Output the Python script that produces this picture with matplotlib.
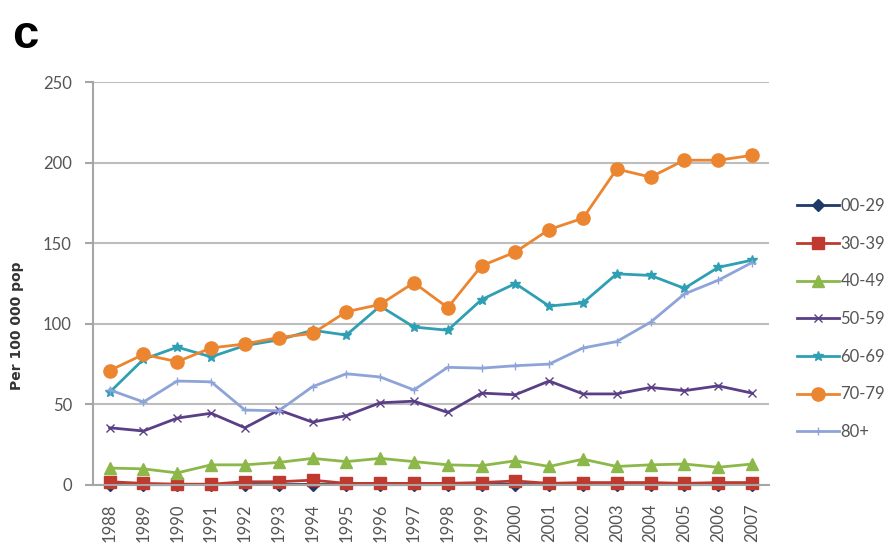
import numpy as np
import matplotlib
matplotlib.use('Agg')
import matplotlib.pyplot as plt

plt.rcParams['font.family'] = ['Lato', 'DejaVu Sans']

years = [str(y) for y in range(1988, 2008)]
labels = ['00-29', '30-39', '40-49', '50-59', '60-69', '70-79', '80+']

v00_29 = [0.3, 0.2, 0.2, 0.3, 0.3, 0.2, 0.3, 0.2, 0.2, 0.2, 0.2, 0.3, 0.3, 0.2, 0.3, 0.2, 0.3, 0.2, 0.2, 0.3]
v30_39 = [2.0, 1.0, 0.5, 0.5, 2.0, 2.0, 3.0, 1.0, 1.0, 1.0, 1.0, 1.5, 2.5, 1.0, 1.5, 1.5, 1.5, 1.0, 1.5, 1.5]
v40_49 = [10.5, 10.0, 7.5, 12.5, 12.5, 14.0, 16.5, 14.5, 16.5, 14.5, 12.5, 12.0, 15.0, 11.5, 16.0, 11.5, 12.5, 13.0, 11.0, 13.0]
v50_59 = [35.5, 33.5, 41.5, 44.5, 35.5, 46.5, 39.0, 43.0, 51.0, 52.0, 45.0, 57.0, 56.0, 64.5, 56.5, 56.5, 60.5, 58.5, 61.5, 57.0]
v60_69 = [57.5, 78.0, 85.5, 79.5, 86.5, 90.0, 96.0, 93.0, 111.0, 98.0, 96.0, 115.0, 125.0, 111.0, 113.0, 131.0, 130.0, 122.0, 135.0, 139.5]
v70_79 = [71.0, 81.0, 76.5, 85.0, 87.5, 91.5, 94.0, 107.5, 112.0, 125.5, 110.0, 136.0, 144.5, 158.5, 165.5, 196.0, 191.0, 201.5, 201.5, 204.5]
v80p = [59.0, 51.5, 64.5, 64.0, 46.5, 46.0, 61.0, 69.0, 67.0, 59.0, 73.0, 72.5, 74.0, 75.0, 85.0, 89.0, 101.0, 118.5, 127.0, 138.0]

series = [v00_29, v30_39, v40_49, v50_59, v60_69, v70_79, v80p]
colors = ['#1f3a68', '#c0392e', '#8cb84a', '#5a3f86', '#2f9fb3', '#eb8530', '#8ea4d8']
markers = ['D', 's', '^', 'x', '*', 'o', '+']
msizes = [6, 8.5, 8.5, 6, 7, 9.5, 6]

fig = plt.figure(figsize=(8.92, 5.49), dpi=100)
ax = fig.add_axes([0.104, 0.1166, 0.758, 0.734])

x = np.arange(len(years))
for vals, lab, c, m, ms in zip(series, labels, colors, markers, msizes):
    ax.plot(x, vals, color=c, lw=2.0, marker=m, ms=ms, mec=c, mfc=c,
            mew=1.0, label=lab, clip_on=False)

ax.set_xlim(-0.5, 19.5)
ax.set_ylim(0, 250)
ax.set_yticks(range(0, 251, 50))
ax.set_xticks(x)
ax.set_xticklabels(years, rotation=90)
ax.yaxis.grid(True, color='#bdbdbd', lw=1.5)
ax.set_axisbelow(True)
for s in ['top', 'right']:
    ax.spines[s].set_visible(False)
ax.spines['left'].set_color('#a6a6a6')
ax.spines['bottom'].set_color('#a6a6a6')
ax.spines['left'].set_linewidth(1.5)
ax.spines['bottom'].set_linewidth(1.5)
ax.tick_params(axis='y', colors='#a6a6a6', labelcolor='#555555', labelsize=12, length=6, width=1.5, pad=9)
ax.tick_params(axis='x', colors='#a6a6a6', labelcolor='#555555', labelsize=12, length=0, pad=13)

fig.text(17 / 892, 1 - 390 / 549, 'Per 100 000 pop', rotation=90, ha='center', va='bottom',
         fontsize=10, fontweight='bold', color='#333333', family=['DejaVu Sans'])
fig.text(12 / 892, 1 - 48 / 549, 'c', fontsize=34, fontweight='bold', color='black',
         family=['Liberation Sans', 'DejaVu Sans'])

fig.legend(loc='upper left', bbox_to_anchor=(797 / 892, 1 - 198 / 549), frameon=False,
           fontsize=12, handlelength=2.5, handletextpad=0.1, labelspacing=1.3,
           labelcolor='#555555', borderaxespad=0, borderpad=0)

fig.savefig('out.png', dpi=100)
